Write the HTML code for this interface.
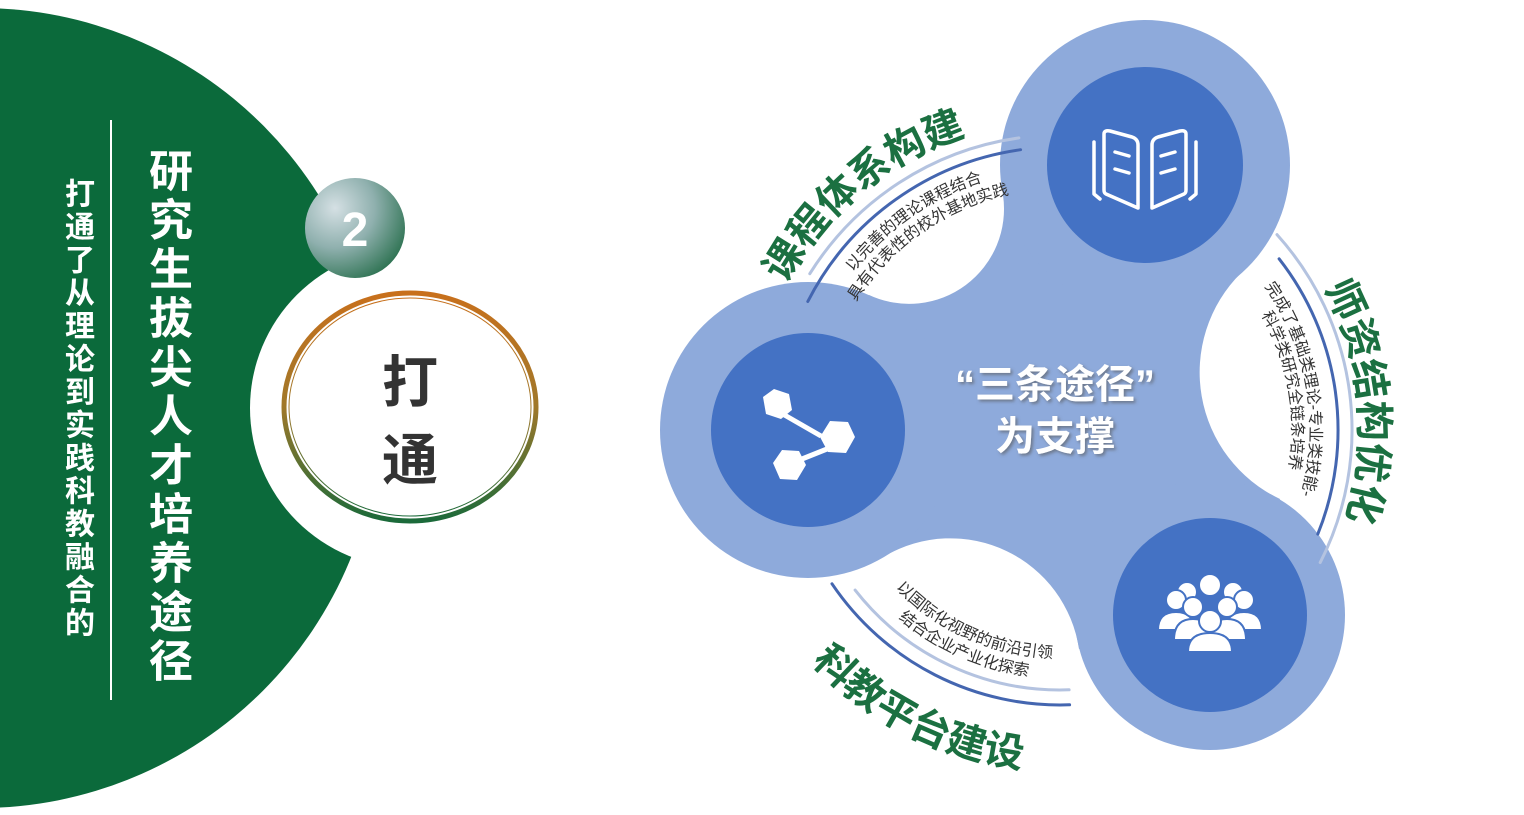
<!DOCTYPE html>
<html><head><meta charset="utf-8"><style>
html,body{margin:0;padding:0;background:#fff;}
body{width:1524px;height:815px;overflow:hidden;position:relative;font-family:"Liberation Sans","Noto Sans CJK SC",sans-serif;}
.v{position:absolute;writing-mode:vertical-rl;text-orientation:upright;color:#fff;font-weight:bold;white-space:nowrap;}
</style></head><body>
<svg width="1524" height="815" style="position:absolute;left:0;top:0" xmlns="http://www.w3.org/2000/svg">
<defs>
<radialGradient id="g2" cx="30%" cy="30%" r="80%">
<stop offset="0" stop-color="#d5e0e4"/><stop offset="0.5" stop-color="#8fb0ae"/><stop offset="1" stop-color="#2c7150"/>
</radialGradient>
<linearGradient id="ring" x1="0" y1="0" x2="0" y2="1">
<stop offset="0" stop-color="#c8701c"/><stop offset="0.5" stop-color="#a0782a"/><stop offset="1" stop-color="#1b6a3a"/>
</linearGradient>
<filter id="sh"><feDropShadow dx="2" dy="2" stdDeviation="1.5" flood-color="#555" flood-opacity="0.6"/></filter>
<path id="pTT" d="M754,376 A308,308 0 0 1 1062.7,122"/>
<path id="pRT" d="M1270.3,216 A300,300 0 0 1 1307.2,599.9"/>
<path id="pBT" d="M748,564 A340,340 0 0 0 1138,761"/>
<path id="pT1" d="M808.9,362.7 A260,260 0 0 1 1082.7,171"/>
<path id="pT2" d="M827.2,367.6 A241,241 0 0 1 1081,189.9"/>
<path id="pR1" d="M1220.7,238.5 A250,250 0 0 1 1276.5,555"/>
<path id="pR2" d="M1209.1,252.3 A232,232 0 0 1 1260.9,546"/>
<path id="pB1" d="M855.1,530 A228,228 0 0 0 1122.8,649.2"/>
<path id="pB2" d="M837.1,538.7 A248,248 0 0 0 1128.3,668.4"/>
</defs>
<circle cx="-20" cy="408" r="400" fill="#0b6a3b"/>
<circle cx="410" cy="408" r="160" fill="#fff"/>
<line x1="111" y1="120" x2="111" y2="700" stroke="#fff" stroke-width="2"/>
<circle cx="355" cy="228" r="50" fill="url(#g2)"/>
<text x="355" y="246" font-size="48" font-weight="bold" fill="#fff" text-anchor="middle" font-family="Liberation Sans,sans-serif">2</text>
<ellipse cx="410" cy="407" rx="126" ry="114" fill="#fff" stroke="url(#ring)" stroke-width="5"/>
<ellipse cx="410" cy="407" rx="121" ry="109" fill="none" stroke="url(#ring)" stroke-width="1"/>
<text x="410" y="402" font-size="56" font-weight="bold" fill="#333" text-anchor="middle">打</text>
<text x="410" y="480" font-size="56" font-weight="bold" fill="#333" text-anchor="middle">通</text>

<path d="M1145,165 L1241,273 A140,140 0 0 0 1280,499 L1210,615 L1079,649 A130,130 0 0 0 885,556 L808,430 L869,295 A95,95 0 0 0 1003,195 Z" fill="#8eaadb"/>
<circle cx="1145" cy="165" r="145" fill="#8eaadb"/>
<circle cx="808" cy="430" r="148" fill="#8eaadb"/>
<circle cx="1210" cy="615" r="135" fill="#8eaadb"/>
<circle cx="1145" cy="165" r="98" fill="#4472c4"/>
<circle cx="808" cy="430" r="97" fill="#4472c4"/>
<circle cx="1210" cy="615" r="97" fill="#4472c4"/>

<g fill="none" stroke="#fff" stroke-width="3.5" stroke-linecap="round" stroke-linejoin="round">
<path d="M1104,134 Q1104,130 1110,131 L1132,137 Q1138,139 1138,145 L1138,208 L1106,194 Q1104,193 1104,190 Z"/>
<path d="M1186,134 Q1186,130 1180,131 L1158,137 Q1152,139 1152,145 L1152,208 L1184,194 Q1186,193 1186,190 Z"/>
<path d="M1094,142 L1094,194 L1100,199"/><path d="M1196,142 L1196,194 L1190,199"/>
<path d="M1115,152 L1129,156 M1115,169 L1129,173 M1161,156 L1175,152 M1161,173 L1175,169"/>
</g>
<g fill="#fff">
<path d="M781,413 L821,436" stroke="#fff" stroke-width="5"/>
<path d="M797,461 L832,447" stroke="#fff" stroke-width="5"/>
<polygon points="763,397 774,389 789,394 792,410 781,419 766,414"/>
<polygon points="820,437 830,421 848,422 855,437 846,453 828,452"/>
<polygon points="773,463 782,450 799,451 806,465 797,480 780,479"/>
</g>
<g fill="#fff" stroke="#4472c4" stroke-width="2">
<circle cx="1187" cy="592" r="10"/><circle cx="1233" cy="592" r="10"/><circle cx="1210" cy="585" r="11"/>
<circle cx="1176" cy="600" r="10"/><circle cx="1244" cy="600" r="10"/>
<path d="M1158,630 Q1158,612 1176,612 Q1194,612 1194,630 Z"/><path d="M1226,630 Q1226,612 1244,612 Q1262,612 1262,630 Z"/>
<circle cx="1193" cy="607" r="10"/><circle cx="1227" cy="607" r="10"/>
<path d="M1174,640 Q1174,619 1193,619 Q1212,619 1212,640 Z"/><path d="M1208,640 Q1208,619 1227,619 Q1246,619 1246,640 Z"/>
<circle cx="1210" cy="621" r="11"/>
<path d="M1188,652 Q1188,633 1210,633 Q1232,633 1232,652 Z"/>
</g>

<g filter="url(#sh)" fill="#fff" font-weight="bold" font-size="40" text-anchor="middle">
<text x="1055" y="398">“三条途径”</text>
<text x="1055" y="450">为支撑</text>
</g>

<g fill="none" stroke-linecap="round">
<path d="M809.8,273.7 A295,295 0 0 1 1018.9,137.9" stroke="#b4c3e0" stroke-width="3"/>
<path d="M807.8,301.5 A283,283 0 0 1 1020.6,149.7" stroke="#4466b0" stroke-width="3"/>
<path d="M1277,234.6 A292,292 0 0 1 1320.2,562.6" stroke="#b4c3e0" stroke-width="3"/>
<path d="M1279.1,258.8 A278,278 0 0 1 1317.8,534.1" stroke="#4466b0" stroke-width="3"/>
<path d="M855.1,590.1 A260,260 0 0 0 1069.1,689.8" stroke="#b4c3e0" stroke-width="3"/>
<path d="M832,583.8 A275,275 0 0 0 1069.6,704.8" stroke="#4466b0" stroke-width="3"/>
</g>

<g fill="#1b7041" font-weight="bold" font-size="40">
<text><textPath href="#pTT" startOffset="50%" text-anchor="middle">课程体系构建</textPath></text>
<text><textPath href="#pRT" startOffset="50%" text-anchor="middle">师资结构优化</textPath></text>
<text><textPath href="#pBT" startOffset="50%" text-anchor="middle">科教平台建设</textPath></text>
</g>
<g fill="#333" font-size="16">
<text><textPath href="#pT1" startOffset="50%" text-anchor="middle">以完善的理论课程结合</textPath></text>
<text><textPath href="#pT2" startOffset="50%" text-anchor="middle">具有代表性的校外基地实践</textPath></text>
<text><textPath href="#pR1" startOffset="50%" text-anchor="middle">完成了基础类理论-专业类技能-</textPath></text>
<text><textPath href="#pR2" startOffset="50%" text-anchor="middle">科学类研究全链条培养</textPath></text>
<text><textPath href="#pB1" startOffset="50%" text-anchor="middle">以国际化视野的前沿引领</textPath></text>
<text><textPath href="#pB2" startOffset="50%" text-anchor="middle">结合企业产业化探索</textPath></text>
</g>
</svg>
<div class="v" style="left:142px;top:148px;font-size:44px;letter-spacing:5px;line-height:48px;">研究生拔尖人才培养途径</div>
<div class="v" style="left:59px;top:178px;font-size:30px;letter-spacing:3px;line-height:34px;">打通了从理论到实践科教融合的</div>
</body></html>
